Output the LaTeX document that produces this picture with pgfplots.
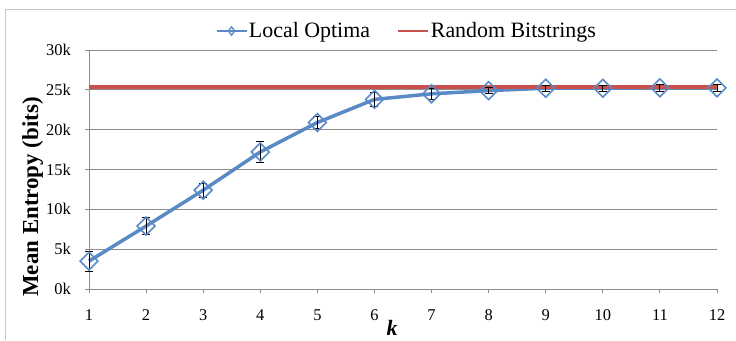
\documentclass[border=0pt]{standalone}
\usepackage{pgfplots}
\pgfplotsset{compat=1.18}
\usepackage{fontspec}
\setmainfont{Liberation Serif}
\definecolor{lblue}{HTML}{5A8AC6}
\definecolor{lred}{HTML}{C8504D}
\definecolor{gridc}{HTML}{8C8C8C}
\pgfplotsset{
  loimg/.style={legend image code/.code={
    \draw[##1, line width=2.8bp, mark size=4.2bp, mark repeat=2, mark phase=2] plot coordinates {(0bp,0bp) (15bp,0bp) (30bp,0bp)};}},
  rbimg/.style={legend image code/.code={\draw[##1, line width=2.8bp] (0bp,0bp) -- (30bp,0bp);}},
}
\pgfplotstableread{
k y e
1 3.5 1.25
2 7.9 1.05
3 12.4 0.85
4 17.2 1.35
5 20.9 0.8
6 23.8 0.85
7 24.5 0.65
8 24.9 0.4
9 25.2 0.4
10 25.2 0.4
11 25.25 0.4
12 25.25 0.4
}\dataLO
\begin{document}
\begin{tikzpicture}[x=1bp,y=1bp]
\useasboundingbox (0,0) rectangle (736,340);
\draw[gray!45, line width=1bp] (5,0) -- (5,330) -- (736,330);
\begin{axis}[
  at={(89bp,51bp)}, anchor=south west,
  scale only axis, width=628bp, height=239bp,
  xmin=1, xmax=12, ymin=0, ymax=30,
  xtick={1,...,12},
  ytick={0,5,...,30},
  yticklabels={0k,5k,10k,15k,20k,25k,30k},
  axis x line*=bottom, axis y line*=left,
  axis line style={gridc, line width=0.9bp, -},
  ymajorgrids, grid style={gridc, line width=0.9bp},
  tick style={gridc, line width=0.9bp},
  tick align=outside, major tick length=4bp,
  tick label style={font=\fontsize{16.5}{19}\selectfont, inner sep=0pt},
  /pgf/number format/assume math mode=true,
  xticklabel style={anchor=base, yshift=-27bp},
  yticklabel style={anchor=east, xshift=-14bp},
  ylabel={\textbf{Mean Entropy (bits)}},
  ylabel style={font=\fontsize{23}{26}\selectfont, at={(axis description cs:-0.0812,0.385)}, anchor=base, inner sep=0pt},
  xlabel={\textbf{\textit{k}}},
  xlabel style={font=\fontsize{22}{25}\selectfont, at={(axis description cs:0.4825,-0.163)}, anchor=center, inner sep=0pt},
  legend style={draw=none, fill=none, at={(axis description cs:0.5048,1.0795)}, anchor=center,
    font=\rmfamily\mdseries\upshape\fontsize{22}{26}\selectfont, legend columns=2,
    /tikz/every even column/.append style={column sep=26bp},
    inner sep=0pt, nodes={inner sep=1bp}},
  legend cell align=left,
  clip=false,
]
\addlegendimage{lblue, mark=diamond, mark options={fill=white, line width=1.3bp, solid}, loimg}
\addlegendentry{\rmfamily Local Optima}
\addlegendimage{lred, rbimg}
\addlegendentry{\rmfamily Random Bitstrings}
% blue line
\addplot[forget plot, lblue, line width=3.5bp, mark=none] table[x=k, y=y] {\dataLO};
% red line
\addplot[forget plot, lred, line width=3.6bp, mark=none] coordinates {(1,25.35) (12,25.35)};
% blue diamonds
\addplot[forget plot, lblue, only marks, mark=square, mark size=6.3bp,
  mark options={rotate=45, fill=white, line width=1.6bp, solid}]
  table[x=k, y=y] {\dataLO};
% error bars
\addplot[forget plot, draw=none, mark=none,
  error bars/.cd, y dir=both, y explicit,
  error bar style={black, line width=0.9bp},
  error mark options={black, rotate=90, mark size=4bp, line width=0.9bp}]
  table[x=k, y=y, y error=e] {\dataLO};
\end{axis}
\end{tikzpicture}
\end{document}
